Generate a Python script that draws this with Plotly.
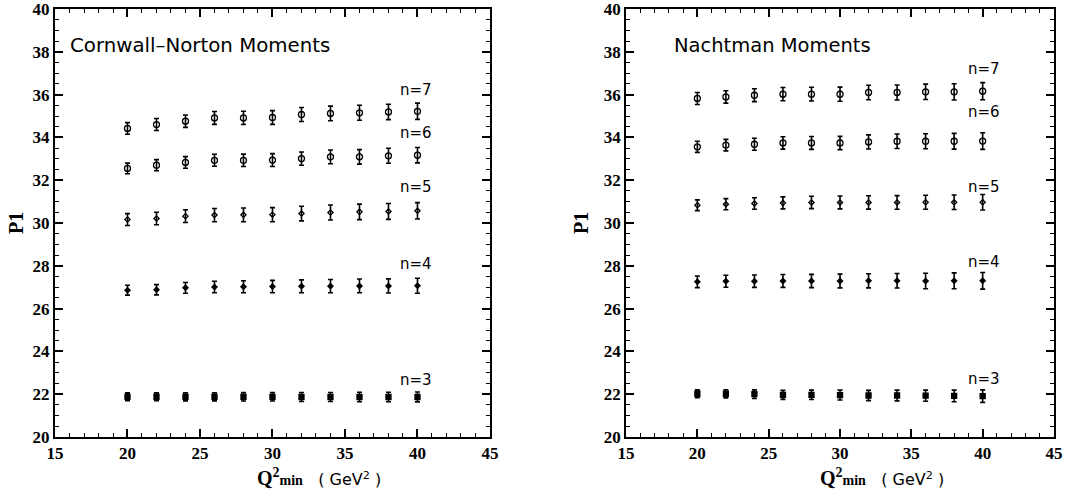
import plotly.graph_objects as go

q2min = [20, 22, 24, 26, 28, 30, 32, 34, 36, 38, 40]

# Cornwall-Norton moments
cn_n3 = [21.88, 21.88, 21.88, 21.88, 21.88, 21.88, 21.87, 21.87, 21.87, 21.87, 21.87]
cn_n3_err = [0.18, 0.18, 0.19, 0.19, 0.2, 0.2, 0.21, 0.21, 0.22, 0.22, 0.23]
cn_n4 = [26.86, 26.88, 26.97, 27.01, 27.02, 27.03, 27.04, 27.05, 27.06, 27.06, 27.07]
cn_n4_err = [0.23, 0.24, 0.25, 0.27, 0.28, 0.29, 0.3, 0.31, 0.32, 0.33, 0.35]
cn_n5 = [30.16, 30.21, 30.32, 30.37, 30.38, 30.39, 30.44, 30.49, 30.52, 30.54, 30.57]
cn_n5_err = [0.28, 0.29, 0.3, 0.31, 0.32, 0.33, 0.34, 0.35, 0.36, 0.37, 0.38]
cn_n6 = [32.55, 32.7, 32.83, 32.93, 32.93, 32.94, 33.01, 33.09, 33.09, 33.14, 33.17]
cn_n6_err = [0.25, 0.26, 0.27, 0.28, 0.29, 0.3, 0.31, 0.32, 0.34, 0.35, 0.36]
cn_n7 = [34.42, 34.6, 34.76, 34.91, 34.91, 34.93, 35.07, 35.12, 35.15, 35.19, 35.22]
cn_n7_err = [0.27, 0.28, 0.29, 0.3, 0.31, 0.32, 0.33, 0.34, 0.35, 0.36, 0.38]

# Nachtman moments
na_n3 = [22.02, 22.02, 22.0, 21.97, 21.97, 21.96, 21.94, 21.94, 21.93, 21.92, 21.91]
na_n3_err = [0.18, 0.19, 0.2, 0.21, 0.22, 0.23, 0.24, 0.25, 0.26, 0.27, 0.29]
na_n4 = [27.25, 27.28, 27.28, 27.29, 27.29, 27.29, 27.3, 27.3, 27.29, 27.3, 27.3]
na_n4_err = [0.27, 0.28, 0.29, 0.3, 0.31, 0.32, 0.33, 0.34, 0.36, 0.37, 0.39]
na_n5 = [30.83, 30.88, 30.91, 30.94, 30.96, 30.96, 30.96, 30.96, 30.97, 30.97, 30.97]
na_n5_err = [0.25, 0.26, 0.27, 0.28, 0.29, 0.3, 0.31, 0.32, 0.33, 0.34, 0.36]
na_n6 = [33.56, 33.64, 33.68, 33.74, 33.74, 33.74, 33.79, 33.82, 33.82, 33.82, 33.83]
na_n6_err = [0.26, 0.27, 0.28, 0.29, 0.3, 0.31, 0.33, 0.34, 0.35, 0.37, 0.39]
na_n7 = [35.82, 35.89, 35.97, 36.02, 36.02, 36.02, 36.1, 36.1, 36.13, 36.13, 36.16]
na_n7_err = [0.28, 0.29, 0.3, 0.31, 0.32, 0.33, 0.34, 0.35, 0.36, 0.38, 0.4]

labels = ["n=3", "n=4", "n=5", "n=6", "n=7"]
cn_label_y = [22.65, 28.1, 31.7, 34.2, 36.2]
na_label_y = [22.7, 28.2, 31.7, 35.2, 37.2]
cn_label_x = 39.9
na_label_x = 40.1

x_ticks = [15, 20, 25, 30, 35, 40, 45]
y_ticks = [20, 22, 24, 26, 28, 30, 32, 34, 36, 38, 40]

panel_titles = ["Cornwall\u2013Norton Moments", "Nachtman Moments"]

fig = go.Figure()

cn_sets = [(cn_n3, cn_n3_err), (cn_n4, cn_n4_err), (cn_n5, cn_n5_err), (cn_n6, cn_n6_err), (cn_n7, cn_n7_err)]
na_sets = [(na_n3, na_n3_err), (na_n4, na_n4_err), (na_n5, na_n5_err), (na_n6, na_n6_err), (na_n7, na_n7_err)]
marker_syms = ["square", "diamond", "diamond-open", "circle-open", "circle-open"]
marker_sizes = [5, 4, 4, 6, 6]

for axi, sets in [("", cn_sets), ("2", na_sets)]:
    for k, (vals, errs) in enumerate(sets):
        fig.add_trace(go.Scatter(
            x=q2min, y=vals, mode="markers",
            xaxis="x" + axi, yaxis="y" + axi,
            marker=dict(symbol=marker_syms[k], size=marker_sizes[k], color="black",
                        line=dict(color="black", width=1.3)),
            error_y=dict(type="data", array=errs, visible=True, color="black",
                         thickness=1.6, width=2.5),
            showlegend=False, hoverinfo="x+y"))

tick_font = dict(family="Liberation Serif", size=17, color="black", weight="bold")

axis_common = dict(
    showline=True, linecolor="black", linewidth=2, mirror="allticks",
    ticks="inside", ticklen=8, tickwidth=1.5, tickcolor="black",
    showgrid=False, zeroline=False, automargin=False,
    tickfont=tick_font, ticklabeloverflow="allow",
)

xa = dict(axis_common, range=[15, 45], tickmode="array", tickvals=x_ticks,
          ticktext=["<b>%d</b>" % v for v in x_ticks],
          minor=dict(dtick=1, tick0=15, ticklen=4, tickwidth=1.2, tickcolor="black", ticks="inside"))
ya = dict(axis_common, range=[20, 40], tickmode="array", tickvals=y_ticks,
          ticktext=["<b>%d</b>" % v for v in y_ticks],
          minor=dict(dtick=0.5, tick0=20, ticklen=4, tickwidth=1.2, tickcolor="black", ticks="inside"))

fig.update_layout(
    width=1071, height=489,
    margin=dict(l=55, r=17, t=9, b=52, autoexpand=False),
    plot_bgcolor="white", paper_bgcolor="white",
    font=dict(family="Liberation Serif", size=17, color="black"),
    xaxis=dict(xa, domain=[0, 0.4354], anchor="y"),
    yaxis=dict(ya, domain=[0, 1], anchor="x"),
    xaxis2=dict(xa, domain=[0.5716, 1], anchor="y2"),
    yaxis2=dict(ya, domain=[0, 1], anchor="x2"),
)

ann = []
for axi, ly, lx in [("", cn_label_y, cn_label_x), ("2", na_label_y, na_label_x)]:
    for lab, yv in zip(labels, ly):
        ann.append(dict(x=lx, y=yv, xref="x" + axi, yref="y" + axi, text=lab,
                        showarrow=False, xanchor="center", yanchor="middle",
                        font=dict(family="DejaVu Sans", size=15, color="black")))

ann.append(dict(x=15.9, y=38.3, xref="x", yref="y", text=panel_titles[0], showarrow=False,
                xanchor="left", yanchor="middle",
                font=dict(family="DejaVu Sans", size=19.8, color="black")))
ann.append(dict(x=18.2, y=38.3, xref="x2", yref="y2", text=panel_titles[1], showarrow=False,
                xanchor="left", yanchor="middle",
                font=dict(family="DejaVu Sans", size=19.5, color="black")))

xtitle = ("<b><span style='font-family:Liberation Serif;font-size:20px'>Q<sup>2</sup></span>"
          "<span style='font-family:Liberation Serif;font-size:14px'>min</span></b>"
          "<span style='font-family:DejaVu Sans;font-size:16px'>   ( GeV<sup>2</sup> )</span>")
for xr, xc in [("x domain", 0.607), ("x2 domain", 0.597)]:
    ann.append(dict(x=xc, y=-(477 - 437) / 428, xref=xr, yref="paper", text=xtitle, showarrow=False,
                    xanchor="center", yanchor="middle", font=dict(color="black")))

for xpx in [16, 581]:
    ann.append(dict(x=(xpx - 55) / 999, y=0.5, xref="paper", yref="paper",
                    text="<b>P1</b>", textangle=-90, showarrow=False,
                    xanchor="center", yanchor="middle",
                    font=dict(family="Liberation Serif", size=20, color="black")))

fig.update_layout(annotations=ann)
fig.write_html("out.html", config={"displayModeBar": False},
               post_script="document.body.style.margin='0';")
